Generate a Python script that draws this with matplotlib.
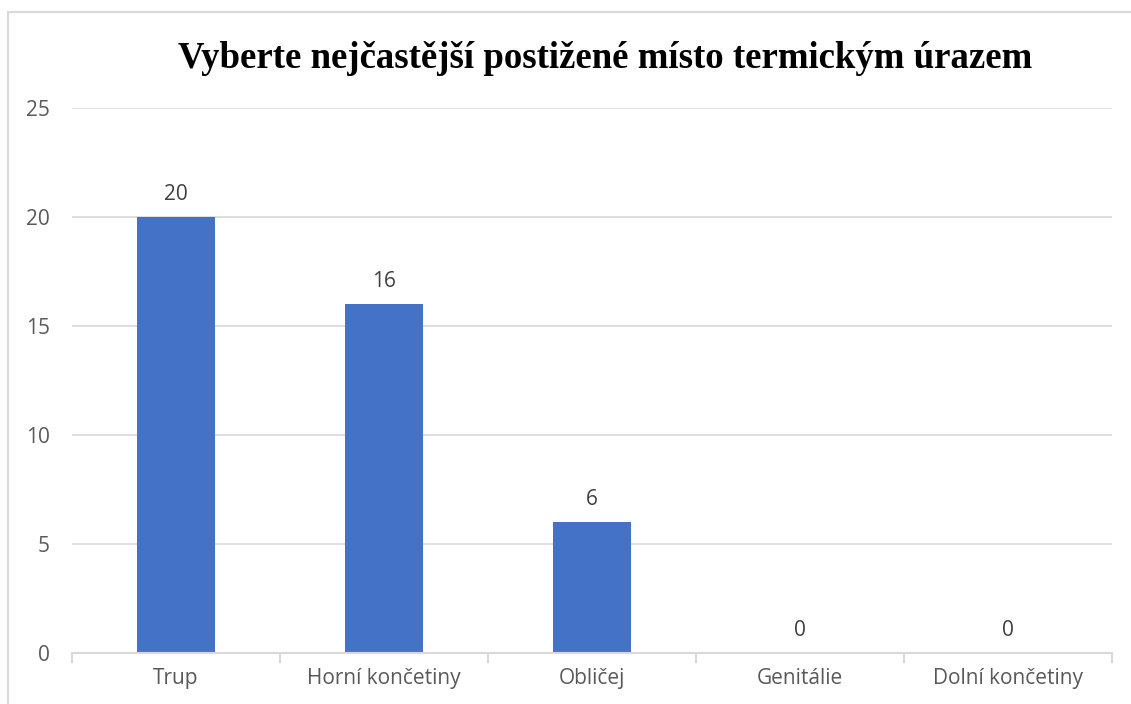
import matplotlib.pyplot as plt
from matplotlib.patches import Rectangle

categories = ["Trup", "Horní končetiny", "Obličej", "Genitálie", "Dolní končetiny"]
values = [20, 16, 6, 0, 0]
y_ticks = [0, 5, 10, 15, 20, 25]
title = "Vyberte nejčastější postižené místo termickým úrazem"

W, H = 1131, 704
fig = plt.figure(figsize=(W / 100, H / 100), dpi=100)
fig.patch.set_facecolor("white")

# outer chart frame (cut off at right and bottom)
fig.patches.append(Rectangle((8 / W, -0.05), 1.2, (H - 12) / H + 0.05,
                             transform=fig.transFigure, fill=False,
                             edgecolor="#D9D9D9", linewidth=1.5))

ax = fig.add_axes([72 / W, (H - 653) / H, (1112 - 72) / W, (653 - 108) / H])

x = list(range(len(categories)))
ax.bar(x, values, width=0.375, color="#4472C4", zorder=3)

for xi, v in zip(x, values):
    ax.annotate(str(v), (xi, v), xytext=(0, 9), textcoords="offset points",
                ha="center", va="bottom", fontsize=15, color="#404040",
                family="Open Sans")

ax.set_xlim(-0.5, len(categories) - 0.5)
ax.set_ylim(0, 25)
ax.set_yticks(y_ticks)
ax.yaxis.grid(True, color="#D9D9D9", linewidth=1.2, zorder=0)

for s in ["top", "right", "left"]:
    ax.spines[s].set_visible(False)
ax.spines["bottom"].set_color("#D9D9D9")
ax.spines["bottom"].set_linewidth(1.5)
ax.spines["bottom"].set_zorder(4)

ax.set_xticks(x)
ax.set_xticklabels(categories, fontsize=15, color="#595959", family="Open Sans")
ax.tick_params(axis="x", length=0, pad=11)
ax.set_xticks([i - 0.5 for i in range(len(categories) + 1)], minor=True)
ax.tick_params(axis="x", which="minor", length=7, width=1.5, color="#D9D9D9")

ax.tick_params(axis="y", length=0, pad=16, labelsize=15, labelcolor="#595959")
for lbl in ax.get_yticklabels():
    lbl.set_family("Open Sans")

fig.text(605 / W, 1 - 58 / H, title, ha="center", va="center",
         fontsize=26.5, fontweight="bold", family="Liberation Serif")

fig.savefig("out.png", dpi=100)
